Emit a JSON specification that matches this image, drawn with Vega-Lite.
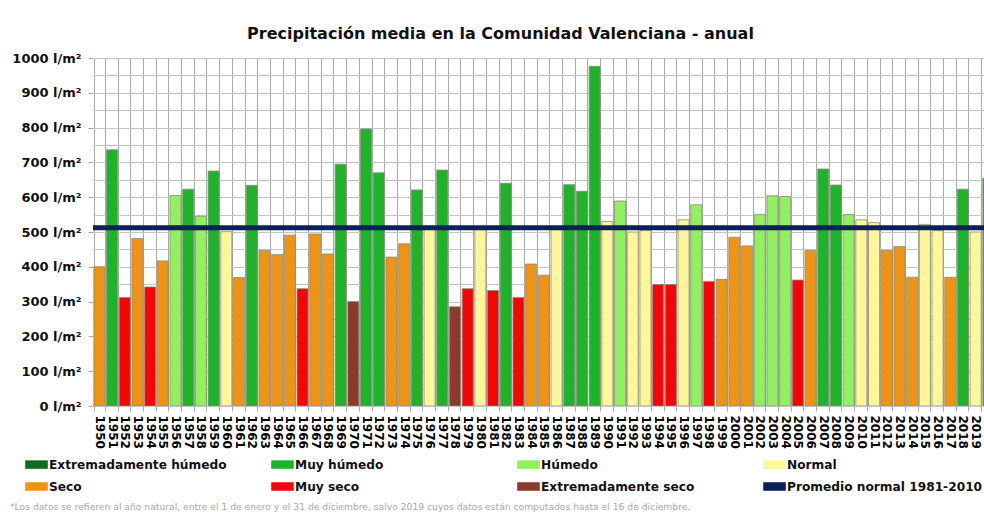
{
  "$schema": "https://vega.github.io/schema/vega-lite/v6.json",
  "autosize": {"type": "none"},
  "padding": {"left": 93, "top": 58, "right": 0, "bottom": 106},
  "width": 891,
  "height": 348,
  "background": "white",
  "config": {
    "view": {"stroke": null},
    "font": "DejaVu Sans"
  },
  "title": {
    "text": "Precipitación media en la Comunidad Valenciana - anual",
    "font": "DejaVu Sans",
    "fontSize": 16,
    "fontWeight": "bold",
    "color": "#111111",
    "anchor": "middle",
    "dx": -38,
    "offset": 10
  },
  "datasets": {
    "anual": [
      {"year": "1950", "precip": 400, "cat": "Seco"},
      {"year": "1951", "precip": 736, "cat": "Muy húmedo"},
      {"year": "1952", "precip": 312, "cat": "Muy seco"},
      {"year": "1953", "precip": 481, "cat": "Seco"},
      {"year": "1954", "precip": 342, "cat": "Muy seco"},
      {"year": "1955", "precip": 417, "cat": "Seco"},
      {"year": "1956", "precip": 605, "cat": "Húmedo"},
      {"year": "1957", "precip": 623, "cat": "Muy húmedo"},
      {"year": "1958", "precip": 545, "cat": "Húmedo"},
      {"year": "1959", "precip": 675, "cat": "Muy húmedo"},
      {"year": "1960", "precip": 501, "cat": "Normal"},
      {"year": "1961", "precip": 369, "cat": "Seco"},
      {"year": "1962", "precip": 634, "cat": "Muy húmedo"},
      {"year": "1963", "precip": 447, "cat": "Seco"},
      {"year": "1964", "precip": 435, "cat": "Seco"},
      {"year": "1965", "precip": 491, "cat": "Seco"},
      {"year": "1966", "precip": 337, "cat": "Muy seco"},
      {"year": "1967", "precip": 494, "cat": "Seco"},
      {"year": "1968", "precip": 437, "cat": "Seco"},
      {"year": "1969", "precip": 695, "cat": "Muy húmedo"},
      {"year": "1970", "precip": 300, "cat": "Extremadamente seco"},
      {"year": "1971", "precip": 796, "cat": "Muy húmedo"},
      {"year": "1972", "precip": 670, "cat": "Muy húmedo"},
      {"year": "1973", "precip": 428, "cat": "Seco"},
      {"year": "1974", "precip": 466, "cat": "Seco"},
      {"year": "1975", "precip": 621, "cat": "Muy húmedo"},
      {"year": "1976", "precip": 515, "cat": "Normal"},
      {"year": "1977", "precip": 678, "cat": "Muy húmedo"},
      {"year": "1978", "precip": 285, "cat": "Extremadamente seco"},
      {"year": "1979", "precip": 337, "cat": "Muy seco"},
      {"year": "1980", "precip": 507, "cat": "Normal"},
      {"year": "1981", "precip": 332, "cat": "Muy seco"},
      {"year": "1982", "precip": 640, "cat": "Muy húmedo"},
      {"year": "1983", "precip": 312, "cat": "Muy seco"},
      {"year": "1984", "precip": 408, "cat": "Seco"},
      {"year": "1985", "precip": 376, "cat": "Seco"},
      {"year": "1986", "precip": 507, "cat": "Normal"},
      {"year": "1987", "precip": 636, "cat": "Muy húmedo"},
      {"year": "1988", "precip": 617, "cat": "Muy húmedo"},
      {"year": "1989", "precip": 976, "cat": "Muy húmedo"},
      {"year": "1990", "precip": 530, "cat": "Normal"},
      {"year": "1991", "precip": 589, "cat": "Húmedo"},
      {"year": "1992", "precip": 500, "cat": "Normal"},
      {"year": "1993", "precip": 504, "cat": "Normal"},
      {"year": "1994", "precip": 349, "cat": "Muy seco"},
      {"year": "1995", "precip": 349, "cat": "Muy seco"},
      {"year": "1996", "precip": 535, "cat": "Normal"},
      {"year": "1997", "precip": 578, "cat": "Húmedo"},
      {"year": "1998", "precip": 358, "cat": "Muy seco"},
      {"year": "1999", "precip": 364, "cat": "Seco"},
      {"year": "2000", "precip": 485, "cat": "Seco"},
      {"year": "2001", "precip": 460, "cat": "Seco"},
      {"year": "2002", "precip": 550, "cat": "Húmedo"},
      {"year": "2003", "precip": 604, "cat": "Húmedo"},
      {"year": "2004", "precip": 602, "cat": "Húmedo"},
      {"year": "2005", "precip": 362, "cat": "Muy seco"},
      {"year": "2006", "precip": 447, "cat": "Seco"},
      {"year": "2007", "precip": 681, "cat": "Muy húmedo"},
      {"year": "2008", "precip": 635, "cat": "Muy húmedo"},
      {"year": "2009", "precip": 550, "cat": "Húmedo"},
      {"year": "2010", "precip": 535, "cat": "Normal"},
      {"year": "2011", "precip": 527, "cat": "Normal"},
      {"year": "2012", "precip": 447, "cat": "Seco"},
      {"year": "2013", "precip": 458, "cat": "Seco"},
      {"year": "2014", "precip": 370, "cat": "Seco"},
      {"year": "2015", "precip": 522, "cat": "Normal"},
      {"year": "2016", "precip": 504, "cat": "Normal"},
      {"year": "2017", "precip": 370, "cat": "Seco"},
      {"year": "2018", "precip": 623, "cat": "Muy húmedo"},
      {"year": "2019", "precip": 500, "cat": "Normal"},
      {"year": "2020", "precip": 655, "cat": "Muy húmedo"}
    ],
    "promedio": [
      {"precip": 512, "cat": "Promedio normal 1981-2010"}
    ]
  },
  "encoding": {
    "y": {
      "field": "precip",
      "type": "quantitative",
      "scale": {"domain": [0, 1000], "nice": false},
      "axis": {
        "title": null,
        "values": [0, 50, 100, 150, 200, 250, 300, 350, 400, 450, 500, 550, 600, 650, 700, 750, 800, 850, 900, 950, 1000],
        "labelExpr": "datum.value % 100 == 0 ? datum.value + ' l/m²' : ''",
        "labelOverlap": false,
        "labelSeparation": 0,
        "grid": true,
        "gridColor": "#c4c4c4",
        "gridWidth": 1,
        "domain": false,
        "tickColor": "#a8a8a8",
        "tickSize": 5,
        "tickOpacity": {"condition": {"test": "datum.value % 100 == 0", "value": 1}, "value": 0},
        "labelPadding": 7,
        "labelFont": "DejaVu Sans",
        "labelFontSize": 13,
        "labelFontWeight": "bold",
        "labelColor": "#111111"
      }
    },
    "color": {
      "field": "cat",
      "type": "nominal",
      "scale": {
        "domain": ["Extremadamente húmedo", "Muy húmedo", "Húmedo", "Normal", "Seco", "Muy seco", "Extremadamente seco", "Promedio normal 1981-2010"],
        "range": ["#0e6b1f", "#1db42a", "#90f060", "#fdf79c", "#ef9314", "#f50606", "#8c3a2b", "#0b1f5c"]
      },
      "legend": {
        "orient": "none",
        "legendX": -83,
        "legendY": 395,
        "direction": "horizontal",
        "columns": 4,
        "gridAlign": "all",
        "columnPadding": 11,
        "rowPadding": 4,
        "symbolOffset": 15,
        "symbolSize": 484,
        "symbolType": "M-1,-0.36H1V0.36H-1Z",
        "symbolStrokeColor": "#8a8a7a",
        "symbolStrokeWidth": 0.6,
        "labelOffset": 1,
        "labelFont": "DejaVu Sans",
        "labelFontSize": 12.2,
        "labelFontWeight": "bold",
        "labelColor": "#111111",
        "labelLimit": 300,
        "title": "*Los datos se refieren al año natural, entre el 1 de enero y el 31 de diciembre, salvo 2019 cuyos datos están computados hasta el 16 de diciembre.",
        "titleOrient": "bottom",
        "titleAnchor": "start",
        "titleFont": "DejaVu Sans",
        "titleFontSize": 9.2,
        "titleFontWeight": "normal",
        "titleColor": "#a8a8a8",
        "titleLimit": 1000,
        "titlePadding": 10
      }
    }
  },
  "layer": [
    {
      "data": {"name": "anual"},
      "mark": {"type": "bar", "stroke": "#8a8a7a", "strokeWidth": 0.8, "clip": true},
      "encoding": {
        "x": {
          "field": "year",
          "type": "ordinal",
          "sort": "ascending",
          "scale": {"range": [0, 901.7], "paddingInner": 0.13, "paddingOuter": 0.065},
          "axis": {
            "title": null,
            "tickBand": "extent",
            "grid": true,
            "gridColor": "#a8a8a8",
            "gridWidth": 1,
            "domain": false,
            "ticks": true,
            "tickColor": "#a8a8a8",
            "tickSize": 5,
            "labelAngle": 90,
            "labelAlign": "left",
            "labelBaseline": "middle",
            "labelPadding": 4,
            "labelOverlap": false,
            "labelFont": "DejaVu Sans",
            "labelFontSize": 12,
            "labelFontWeight": "bold",
            "labelColor": "#000000",
            "labelExpr": "datum.value == '2020' ? '' : datum.label"
          }
        }
      }
    },
    {
      "data": {"name": "promedio"},
      "mark": {"type": "rule", "strokeWidth": 5},
      "encoding": {}
    }
  ]
}
